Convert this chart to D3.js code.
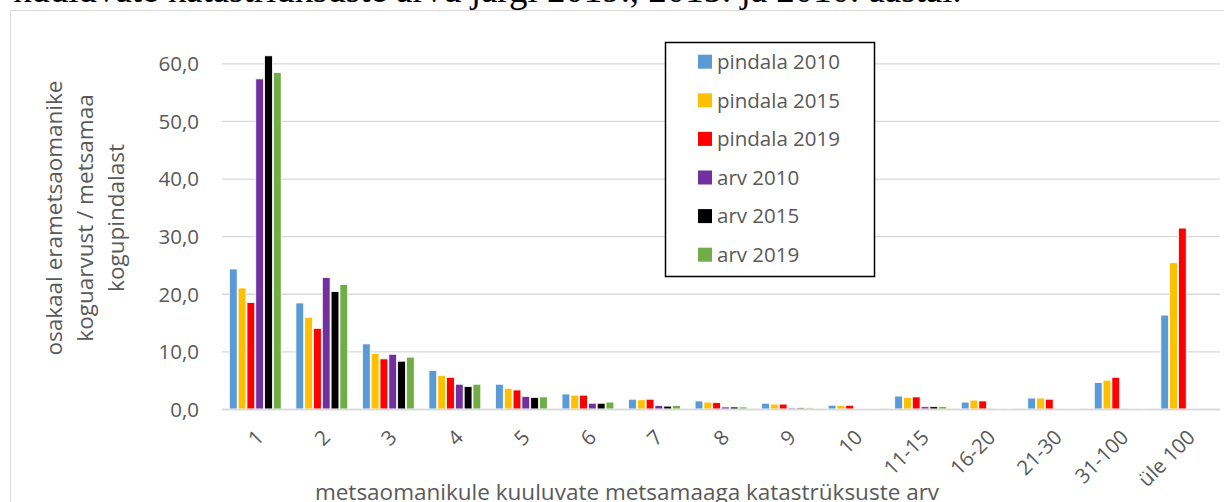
<!DOCTYPE html>
<html>
<head>
<meta charset="utf-8">
<script src="https://d3js.org/d3.v7.min.js"></script>
<style>
  html, body { margin: 0; padding: 0; background: #fff; }
  svg { display: block; }
  text { font-family: "Open Sans", sans-serif; fill: #595959; }
</style>
</head>
<body>
<script>
// categories (number of cadastral units per owner)
var categories = ["1", "2", "3", "4", "5", "6", "7", "8", "9", "10", "11-15", "16-20", "21-30", "31-100", "üle 100"];

var seriesNames = ["pindala 2010", "pindala 2015", "pindala 2019", "arv 2010", "arv 2015", "arv 2019"];
var seriesColors = ["#5b9bd5", "#ffc000", "#ff0000", "#7030a0", "#000000", "#70ad47"];

var pindala2010 = [24.3, 18.4, 11.3, 6.7, 4.3, 2.6, 1.7, 1.4, 1.0, 0.65, 2.25, 1.2, 1.9, 4.6, 16.3];
var pindala2015 = [21.0, 15.9, 9.65, 5.8, 3.6, 2.4, 1.6, 1.2, 0.85, 0.65, 2.0, 1.55, 1.9, 5.0, 25.4];
var pindala2019 = [18.5, 14.0, 8.7, 5.5, 3.3, 2.4, 1.7, 1.1, 0.85, 0.65, 2.1, 1.4, 1.7, 5.5, 31.4];
var arv2010 = [57.3, 22.8, 9.5, 4.3, 2.2, 1.0, 0.6, 0.35, 0.2, 0.1, 0.4, 0, 0, 0, 0];
var arv2015 = [61.3, 20.4, 8.3, 3.9, 2.0, 1.0, 0.5, 0.35, 0.2, 0.1, 0.4, 0.1, 0.1, 0.1, 0];
var arv2019 = [58.4, 21.6, 9.0, 4.3, 2.1, 1.2, 0.6, 0.35, 0.2, 0.1, 0.4, 0.1, 0.1, 0.1, 0];

var yTicks = [0, 10, 20, 30, 40, 50, 60];

var allValues = [pindala2010, pindala2015, pindala2019, arv2010, arv2015, arv2019];

var W = 1224, H = 502;
var plotLeft = 222, plotRight = 1220, plotTop = 63.3, plotBottom = 409;

var svg = d3.select("body").append("svg")
    .attr("width", W)
    .attr("height", H);

// caption text cut off at top of picture
var cap = svg.append("text")
    .attr("x", 13)
    .attr("y", 2)
    .style("font-family", "'Liberation Serif', 'Times New Roman', serif")
    .style("fill", "#000")
    .style("font-size", "28px")
    .text("kuuluvate katastriüksuste arvu järgi 2019., 2015. ja 2010. aastal.");
var capLen = cap.node().getComputedTextLength();
cap.style("font-size", (28 * 949 / capLen) + "px");

// chart area border
svg.append("rect")
    .attr("x", 10.5)
    .attr("y", 10.5)
    .attr("width", W)
    .attr("height", H)
    .attr("fill", "none")
    .attr("stroke", "#d9d9d9")
    .attr("stroke-width", 1);

var x0 = d3.scaleBand()
    .domain(categories)
    .range([plotLeft, plotRight])
    .paddingInner(0.206)
    .paddingOuter(0.103);

var x1 = d3.scaleBand()
    .domain(seriesNames)
    .range([0, x0.bandwidth()]);

var y = d3.scaleLinear()
    .domain([0, 60])
    .range([plotBottom, plotTop]);

var fmt = function(d) { return d3.format(".1f")(d).replace(".", ","); };

// gridlines + y labels
var yAxis = svg.append("g")
    .attr("transform", "translate(" + plotLeft + ",0)")
    .call(d3.axisLeft(y).tickValues(yTicks).tickFormat(fmt)
        .tickSize(-(plotRight - plotLeft)).tickPadding(23));
yAxis.select(".domain").remove();
yAxis.selectAll("line").attr("stroke", "#d9d9d9").attr("stroke-width", 1.3);
yAxis.selectAll("text")
    .style("font-size", "20.5px")
    .attr("fill", "#595959")
    .attr("dy", "0.36em");

// bars
var groups = svg.append("g").selectAll("g")
    .data(categories)
    .join("g")
    .attr("transform", function(d) { return "translate(" + x0(d) + ",0)"; });

groups.selectAll("rect")
    .data(function(d, i) {
        return seriesNames.map(function(s, j) { return { s: s, j: j, v: allValues[j][i] }; });
    })
    .join("rect")
    .attr("x", function(d) { return x1(d.s) + 0.5; })
    .attr("width", x1.bandwidth() - 1)
    .attr("y", function(d) { return y(d.v); })
    .attr("height", function(d) { return plotBottom - y(d.v); })
    .attr("fill", function(d) { return seriesColors[d.j]; })
    .attr("stroke", "#fff")
    .attr("stroke-width", 0.8);

// x axis
var xAxis = svg.append("g")
    .attr("transform", "translate(0," + plotBottom + ")")
    .call(d3.axisBottom(x0).tickSize(0).tickPadding(0));
xAxis.select(".domain").attr("stroke", "#d9d9d9").attr("stroke-width", 1.3);
xAxis.selectAll("text")
    .style("font-size", "20.5px")
    .attr("fill", "#595959")
    .attr("text-anchor", "end")
    .attr("dy", null)
    .attr("y", 0)
    .attr("dominant-baseline", "central")
    .attr("transform", "translate(4,24) rotate(-45)");

// y axis title
var yTitle = ["osakaal erametsaomanike", "koguarvust / metsamaa", "kogupindalast"];
var yTitleX = [62, 92.5, 123.5];
svg.append("g").selectAll("text")
    .data(yTitle)
    .join("text")
    .attr("transform", function(d, i) { return "translate(" + yTitleX[i] + ",218) rotate(-90)"; })
    .attr("text-anchor", "middle")
    .style("font-size", "22.5px")
    .text(function(d) { return d; });

// x axis title
svg.append("text")
    .attr("x", 627)
    .attr("y", 500)
    .attr("text-anchor", "middle")
    .style("font-size", "22.5px")
    .text("metsaomanikule kuuluvate metsamaaga katastrüksuste arv");

// legend
var lg = svg.append("g");
lg.append("rect")
    .attr("x", 665.5)
    .attr("y", 42.5)
    .attr("width", 209)
    .attr("height", 234)
    .attr("fill", "#fff")
    .attr("stroke", "#000")
    .attr("stroke-width", 1.5);

var items = lg.selectAll("g.item")
    .data(seriesNames)
    .join("g")
    .attr("class", "item")
    .attr("transform", function(d, i) { return "translate(698," + (61.7 + i * 38.6) + ")"; });
items.append("rect")
    .attr("x", 0)
    .attr("y", -7)
    .attr("width", 14)
    .attr("height", 14)
    .attr("fill", function(d, i) { return seriesColors[i]; });
items.append("text")
    .attr("x", 19)
    .attr("dy", "0.36em")
    .style("font-size", "20.5px")
    .text(function(d) { return d; });
</script>
</body>
</html>
